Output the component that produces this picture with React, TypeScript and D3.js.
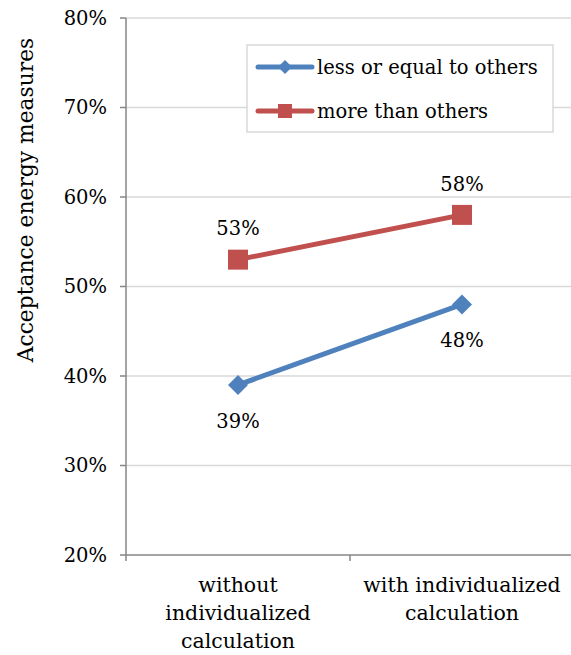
import React from "react";
import * as d3 from "d3";

const categories = ["without\nindividualized\ncalculation", "with individualized\ncalculation"];
const seriesNames = ["less or equal to others", "more than others"];
const lessOrEqual = [0.39, 0.48];
const moreThan = [0.53, 0.58];
const yTicks = [0.2, 0.3, 0.4, 0.5, 0.6, 0.7, 0.8];

const W = 571, H = 655;
const FONT = "DejaVu Serif";
const FS = 19.5;

export default function App() {
  const x = d3.scaleBand<string>().domain(categories).range([126, 574]);
  const y = d3.scaleLinear().domain([0.2, 0.8]).range([555, 18]);
  const cx = (c: string) => (x(c) as number) + x.bandwidth() / 2;
  const line = d3.line<[number, number]>().x(d => d[0]).y(d => d[1]);
  const fmt = d3.format(".0%");
  const blue = "#4f81bd", red = "#c0504d";

  const series = [
    { name: seriesNames[0], values: lessOrEqual, color: blue, marker: "diamond", labelDy: 36 },
    { name: seriesNames[1], values: moreThan, color: red, marker: "square", labelDy: -31 },
  ];

  const marker = (type: string, px: number, py: number, color: string, size: number) =>
    type === "square" ? (
      <rect x={px - size / 2} y={py - size / 2} width={size} height={size} fill={color} />
    ) : (
      <path d={`M${px},${py - size / 2}L${px + size / 2},${py}L${px},${py + size / 2}L${px - size / 2},${py}Z`} fill={color} />
    );

  return (
    <svg width={W} height={H} style={{ position: "absolute", left: 0, top: 0 }} fontFamily={FONT} fontSize={FS}>
      <rect width={W} height={H} fill="#fff" />
      {yTicks.map(t => (
        <g key={t}>
          {t > 0.2 && <line x1={126} x2={574} y1={y(t)} y2={y(t)} stroke="#d9d9d9" strokeWidth={1.5} />}
          <line x1={120} x2={126} y1={y(t)} y2={y(t)} stroke="#868686" strokeWidth={1.5} />
          <text x={107} y={y(t)} dy="0.35em" textAnchor="end" fill="#000">{fmt(t)}</text>
        </g>
      ))}
      <line x1={126} x2={126} y1={y(0.8)} y2={y(0.2)} stroke="#868686" strokeWidth={1.5} />
      <line x1={126} x2={574} y1={y(0.2)} y2={y(0.2)} stroke="#868686" strokeWidth={1.5} />
      {[126, 350, 574].map(v => (
        <line key={v} x1={v} x2={v} y1={555} y2={561} stroke="#868686" strokeWidth={1.5} />
      ))}
      {categories.map(c => (
        <text key={c} x={cx(c)} y={592} textAnchor="middle" fill="#000" fontSize={20.5}>
          {c.split("\n").map((l, i) => (
            <tspan key={i} x={cx(c)} dy={i === 0 ? 0 : 28}>{l}</tspan>
          ))}
        </text>
      ))}
      <text transform={`translate(33,200) rotate(-90)`} textAnchor="middle" fill="#000" fontSize={21.8}>Acceptance energy measures</text>
      {series.map(s => {
        const pts: [number, number][] = categories.map((c, i) => [cx(c), y(s.values[i])]);
        return (
          <g key={s.name}>
            <path d={line(pts) as string} fill="none" stroke={s.color} strokeWidth={5} />
            {pts.map((p, i) => (
              <g key={i}>
                {marker(s.marker, p[0], p[1], s.color, 20)}
                <text x={p[0]} y={p[1] + s.labelDy} dy="0.35em" textAnchor="middle" fill="#000">{fmt(s.values[i])}</text>
              </g>
            ))}
          </g>
        );
      })}
      <rect x={247} y={45} width={306} height={87} fill="#fff" stroke="#d9d9d9" strokeWidth={1.5} />
      {series.map((s, i) => {
        const ly = 67 + i * 44;
        return (
          <g key={s.name}>
            <line x1={258} x2={312} y1={ly} y2={ly} stroke={s.color} strokeWidth={5} strokeLinecap="round" />
            {marker(s.marker, 285, ly, s.color, 14)}
            <text x={317} y={ly} dy="0.35em" fill="#000">{s.name}</text>
          </g>
        );
      })}
    </svg>
  );
}
